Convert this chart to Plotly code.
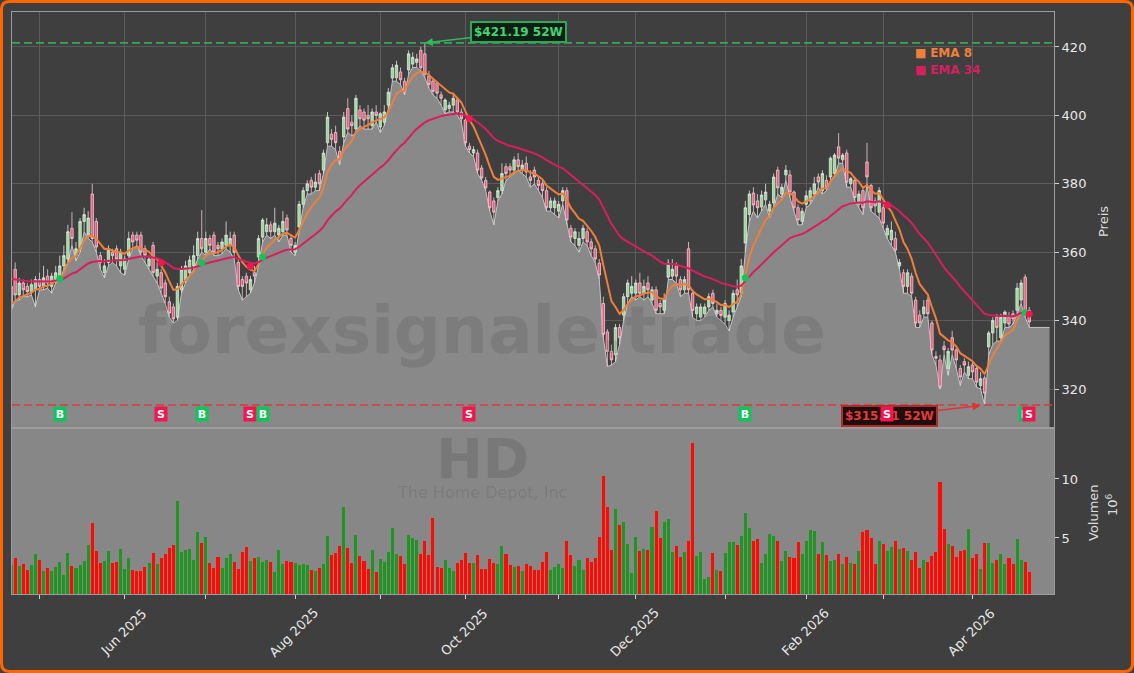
import plotly.graph_objects as go

# ---------------- data ----------------
open_ = [344, 355, 347.5, 351, 350, 348.5, 349, 352, 350, 353,
         350, 352, 353, 356, 358, 367, 359, 361, 369, 365,
         377, 369, 359, 354, 357, 360, 361, 356, 355, 359,
         365, 365, 365, 361, 356, 362, 353, 354, 351, 345.5,
         344, 341, 349, 352, 354, 356, 359, 364, 360, 364,
         365, 362, 361, 362, 362, 365, 357, 352, 353, 349,
         354, 358.6, 364.4, 366, 368, 366, 365, 366, 370, 364,
         360, 367.4, 374, 378, 381, 379, 383, 384, 392, 394.5,
         395, 389.5, 393.7, 402, 398, 396, 401.6, 401, 400, 397,
         401, 396.6, 398, 403, 410.9, 411, 412.7, 410, 413.3, 415,
         415.5, 419, 418, 411.5, 410, 409.5, 406, 401.6, 402, 403,
         404.5, 401, 398.6, 391, 389, 389, 384.6, 381, 377.6, 375,
         376, 378, 385, 385, 384, 387, 384, 386, 382, 384,
         381, 380, 378, 373, 373, 372, 375, 378, 367, 364,
         362, 364, 366, 363, 361, 356.8, 345, 336.7, 331, 330,
         338, 341.6, 347, 348, 348, 351, 348, 351, 346, 349,
         345, 343, 352.7, 353, 356, 352, 349, 361, 348, 342,
         341, 342, 344, 348, 342, 343, 341, 340, 342.5, 349,
         348, 362.7, 371, 377.3, 375, 373.2, 375.3, 372, 374.4, 384,
         377, 382.6, 382.6, 377.6, 373, 369, 374, 375, 377, 382,
         378, 381, 382, 383, 390.8, 387, 389, 380, 381, 374,
         378, 386.4, 379.5, 375, 371.7, 373, 365, 363.6, 364, 356,
         354, 350, 353, 346, 341.6, 342, 346, 339.3, 329.5, 328.5,
         332.5, 326, 335, 331.4, 326, 328, 324, 327, 326, 321,
         323.2, 332.3, 336.4, 341, 335, 339.3, 341, 342, 343, 346,
         352.7, 343]
high = [352, 357, 352.5, 352, 351, 352, 353, 354, 356, 355,
        354, 356, 359, 362, 368, 371.7, 363, 370, 373, 372,
        380, 370, 360, 358, 362, 361, 362, 361, 359, 366,
        366, 366, 366, 362, 359, 363, 357, 355, 352, 347,
        345, 351, 356, 357.5, 359, 362, 366, 372.3, 366, 365,
        366, 363, 364, 369, 366, 366, 358, 353, 354, 353,
        356, 365, 370, 370, 369, 373, 368, 372, 371, 365,
        363, 375, 379, 381, 382, 383, 384, 390, 401, 396,
        397, 391, 401, 405, 400, 406, 403, 402, 403, 402,
        403, 401, 403, 408, 415, 416, 414, 411, 419, 418.5,
        418, 420, 421.19, 413, 411, 410, 407, 405, 404, 406,
        405, 402, 399, 392, 391, 390, 385.5, 382, 378, 376,
        379, 386, 386, 386, 388, 389, 387, 388, 384, 385,
        382, 381, 379, 376, 376, 375, 379, 379, 368, 367,
        366, 368, 367, 364, 362, 358, 347, 337.5, 333, 339,
        339, 348, 352, 353, 352, 354, 352, 353, 350, 350,
        346, 348, 358, 358, 357, 353, 353, 363, 349, 345,
        345, 345, 348, 349, 345, 344, 346, 343, 349, 352,
        358, 375, 378, 379, 377, 378, 380, 375, 383, 385,
        380, 385.5, 384, 378, 374, 373, 378, 379, 382, 383,
        384, 382.5, 388, 389, 394.8, 389, 390, 382, 382, 378,
        379, 392, 380, 376, 379, 374, 368, 369, 366, 358,
        355, 355, 354, 347, 343, 346, 347, 340, 331, 330,
        334, 332, 337, 332, 327, 329, 328, 328, 327, 325,
        324, 337, 341, 342, 342, 343, 342.5, 343, 351, 352,
        353.5, 344]
low = [342.6, 346, 346, 347, 347, 347.5, 344, 349, 349, 349.5,
       348, 351, 352, 355, 357, 362, 357.5, 360, 366, 364,
       363, 360, 355, 352.5, 356, 357, 356, 354, 353.3, 358,
       361, 362, 359, 357, 355, 353, 351, 348, 345, 341,
       339.3, 340, 348, 351, 353, 355, 358, 360, 359, 361,
       359, 359, 359.5, 361, 360, 358, 349, 346, 347, 348,
       351, 356, 363, 365, 364, 365, 363, 365, 365, 360,
       359, 366, 373, 377, 377, 378, 378, 383, 391, 391,
       390, 385.5, 392, 395, 394, 395, 397, 396, 396, 396,
       398, 395, 397, 402, 410, 410, 409, 406, 412, 414,
       414, 413, 411, 408, 406, 405, 403, 400.5, 401, 401,
       400, 398, 391, 389, 388, 383, 381, 378, 372, 368,
       375, 377, 381, 382, 383, 384, 383, 382, 379, 380,
       378, 376, 372, 372, 371, 370, 374, 368, 363, 362,
       360, 363, 362, 359, 357, 352, 335, 326.6, 327, 328,
       333, 340, 345, 347, 346, 347, 346, 347, 345, 342,
       342, 342, 352, 352, 351, 347, 348, 348, 341, 340,
       340, 341, 343, 344, 341, 340, 339, 337, 341, 344,
       347, 360, 369, 372, 370, 372, 374, 370, 373, 377,
       376, 381, 376, 372, 368, 368, 373, 374, 376, 379,
       377, 378, 381, 382, 386, 386, 379, 379, 375, 373,
       371, 380, 372, 371, 370, 367, 364, 362, 360, 355,
       348, 348, 347, 338, 338, 341, 341, 330, 327, 320,
       330, 324, 330, 326, 321, 325, 323, 323, 320.5, 320,
       315.31, 330, 333, 334, 334, 338, 338, 339, 342, 345,
       341, 338]
close = [350, 347.5, 351, 349, 348.5, 350.5, 352, 350, 352.5, 351,
         353, 354, 356, 359, 366, 364, 361, 369, 371, 370,
         364, 361.5, 357, 356, 361, 359, 358, 360, 358, 364,
         363, 363.5, 360, 359, 358, 354, 355, 349.5, 347, 342.2,
         340.5, 350, 355, 356, 357.7, 359, 364, 361, 364, 362,
         360, 361, 363, 365, 364, 360, 350, 350, 351, 352,
         353, 364, 369.4, 368, 366, 368.5, 367, 369, 366.5, 362,
         362, 374, 378, 380, 379, 380.5, 380, 389, 399.5, 393,
         392, 387.5, 399.5, 396, 397, 405, 399, 398.6, 399, 401,
         400, 400.5, 401, 406.8, 413.9, 414.7, 410.4, 407, 418, 417,
         416.5, 413.9, 412, 409, 407, 406.5, 405, 404.5, 403, 405,
         401, 399, 392, 390, 390, 384, 381.7, 378.8, 373, 371.7,
         378, 383, 383, 384, 387, 385, 385.5, 383.5, 381, 382,
         379.5, 378, 373, 375, 375, 374, 378, 369.4, 364.4, 366,
         364, 367, 363, 361, 358, 353.3, 336, 331, 328.5, 338,
         335, 347, 351, 350, 351, 348, 350, 349, 349, 343,
         344, 346, 356.8, 355, 353, 349, 352, 349, 343, 344,
         344, 344, 347, 345, 343, 341.5, 345, 341.6, 348, 347.5,
         356, 373, 377, 373.8, 373, 376.7, 377.6, 374, 382, 378.8,
         379, 384, 377.6, 373, 369.4, 372, 376.5, 378, 380, 380.5,
         383, 379, 387.5, 388.4, 387.5, 388.4, 380.5, 381.5, 376, 377,
         373, 382, 373, 373.5, 378, 368.5, 367, 366.4, 360.6, 357,
         350, 354, 348, 339.3, 339.3, 344, 342, 331.4, 329, 320.6,
         331.5, 331, 331.4, 328.5, 323.5, 327, 326.5, 325, 322, 323,
         318.8, 336.4, 340, 338, 341, 342.5, 339, 340.5, 349.5, 351,
         342.2, 339.6]
volume_m = [2.71, 3.28, 2.66, 2.77, 2.29, 2.71, 3.64, 3.14, 2.20, 2.49,
            2.20, 2.57, 2.97, 1.86, 3.73, 2.63, 2.49, 2.71, 3.05, 4.41,
            6.30, 3.93, 2.88, 3.05, 3.90, 2.91, 2.97, 4.07, 2.40, 3.31,
            2.29, 2.20, 2.20, 2.57, 2.88, 3.73, 2.80, 3.31, 3.64, 4.15,
            4.41, 8.14, 3.81, 3.98, 4.07, 3.16, 5.51, 4.58, 5.08, 2.88,
            2.49, 3.39, 2.49, 3.31, 3.64, 2.97, 2.40, 3.81, 4.24, 3.05,
            3.31, 3.39, 2.97, 3.14, 2.97, 2.12, 3.98, 2.80, 3.05, 2.97,
            2.88, 2.71, 2.80, 2.71, 2.29, 2.20, 2.46, 2.80, 5.17, 3.56,
            3.73, 4.32, 7.60, 4.15, 2.88, 5.25, 3.47, 3.05, 2.37, 3.98,
            2.12, 3.22, 2.97, 3.81, 5.85, 3.64, 3.47, 2.80, 5.25, 5.03,
            4.86, 3.64, 4.75, 3.56, 6.69, 2.54, 2.46, 3.14, 2.46, 2.20,
            2.88, 3.14, 3.73, 2.88, 2.88, 3.56, 2.37, 2.37, 3.22, 2.88,
            2.80, 4.32, 3.64, 2.71, 2.54, 2.63, 2.20, 2.80, 2.63, 2.29,
            2.29, 2.97, 3.81, 2.29, 2.54, 2.80, 2.46, 4.75, 3.56, 2.63,
            3.14, 2.29, 3.31, 2.97, 3.31, 5.08, 10.25, 7.60, 3.98, 7.46,
            6.10, 6.36, 4.49, 2.03, 5.08, 3.90, 4.07, 3.98, 5.93, 7.29,
            5.00, 6.36, 6.61, 3.81, 4.32, 3.39, 3.81, 4.75, 13.08, 3.47,
            3.81, 1.50, 1.70, 3.73, 2.29, 2.20, 3.73, 4.66, 4.66, 4.41,
            5.17, 7.12, 5.85, 4.75, 4.92, 2.88, 3.64, 5.34, 5.17, 4.75,
            3.08, 3.90, 3.42, 3.33, 4.69, 3.64, 4.75, 5.68, 5.59, 3.64,
            4.66, 3.56, 3.05, 3.14, 3.64, 2.80, 3.39, 2.85, 2.80, 3.90,
            5.51, 5.68, 5.00, 2.80, 4.75, 4.49, 3.90, 4.24, 4.75, 4.07,
            4.15, 3.90, 3.14, 3.81, 2.46, 3.14, 2.97, 3.47, 3.81, 9.75,
            5.76, 4.49, 4.32, 3.39, 3.90, 3.98, 5.76, 3.31, 3.64, 2.37,
            4.58, 4.58, 2.88, 3.14, 3.64, 2.80, 3.31, 2.80, 4.92, 3.14,
            2.97, 2.12]

# month starts (trading-day index) and their labels
month_idx = [7, 28, 48, 70, 91, 112, 135, 154, 176, 196, 215, 237]
month_labels = ["", "Jun 2025", "", "Aug 2025", "", "Oct 2025", "",
                "Dec 2025", "", "Feb 2026", "", "Apr 2026"]

buy_idx = [12, 47, 62, 181, 250]
sell_idx = [37, 59, 113, 216, 251]

ema8_start = 343.5      # EMA levels at the left edge of the chart
ema34_start = 352.3

high_52w, high_52w_idx = 421.19, 102
low_52w, low_52w_idx = 315.31, 240
area_end_idx = 256       # grey area continues flat to here

price_ticks = [320, 340, 360, 380, 400, 420]
volume_ticks = [5, 10]

# ---------------- helpers ----------------
n = len(close)
x = list(range(n))


def ema(vals, span, start):
    a = 2.0 / (span + 1)
    out, e = [], start
    for v in vals:
        e = e + a * (v - e)
        out.append(e)
    return out


ema8 = ema(close, 8, ema8_start)
ema34 = ema(close, 34, ema34_start)

# layout geometry in pixels
W, H = 1134, 673
ML, MR, MT, MB = 12, 80, 12, 79
PW, PH = W - ML - MR, H - MT - MB
VOL_FRAC = 166 / PH


def px(X):
    return (X - ML) / PW


def py(Y):
    return (H - MB - Y) / PH


BG = "#3f3f3f"
GRID = "#5b5b5b"
FRAME = "#9c9c9c"
TXT = "#e8e8e8"
EMA8_C = "#f07f3a"
EMA34_C = "#d81e5f"
UP_V = "#1f961f"
DN_V = "#ff0a00"

fig = go.Figure()

# grey area under the lows
fig.add_trace(go.Scatter(
    x=x + [area_end_idx], y=low + [low[-1]], mode="lines",
    line=dict(color="#c4c4c4", width=1), fill="tozeroy",
    fillcolor="#898989", hoverinfo="skip", xaxis="x", yaxis="y"))

# candles (overlay axis so they sit above the area)
fig.add_trace(go.Candlestick(
    x=x, open=open_, high=high, low=low, close=close,
    increasing=dict(line=dict(color="#e4e4e4", width=0.8), fillcolor="#8ee08e"),
    decreasing=dict(line=dict(color="#ecd0d6", width=0.8), fillcolor="#f0557a"),
    whiskerwidth=0, xaxis="x", yaxis="y3", name="HD"))

fig.add_trace(go.Scatter(x=x, y=ema8, mode="lines", line=dict(color=EMA8_C, width=2),
                         xaxis="x", yaxis="y3", name="EMA 8"))
fig.add_trace(go.Scatter(x=x, y=ema34, mode="lines", line=dict(color=EMA34_C, width=2),
                         xaxis="x", yaxis="y3", name="EMA 34"))

fig.add_trace(go.Scatter(
    x=buy_idx, y=[(ema8[i] + ema34[i]) / 2 for i in buy_idx], mode="markers",
    marker=dict(color="#10c45c", size=7), xaxis="x", yaxis="y3", name="Buy"))
fig.add_trace(go.Scatter(
    x=sell_idx, y=[(ema8[i] + ema34[i]) / 2 for i in sell_idx], mode="markers",
    marker=dict(color="#f2164e", size=7), xaxis="x", yaxis="y3", name="Sell"))

# volume
vcol = [UP_V if c >= o else DN_V for o, c in zip(open_, close)]
fig.add_trace(go.Bar(x=x, y=volume_m, marker=dict(color=vcol, line=dict(width=0)),
                     width=0.75, xaxis="x2", yaxis="y2", name="Volumen"))

price_range = [308.6, 430.23]

fig.update_layout(
    width=W, height=H, margin=dict(l=ML, r=MR, t=MT, b=MB),
    paper_bgcolor=BG, plot_bgcolor=BG, showlegend=False,
    font=dict(family="DejaVu Sans", color=TXT, size=13),
    bargap=0, boxgap=0.15,
    xaxis=dict(domain=[0, 1], anchor="y", range=[0.22, 257.1],
               tickvals=month_idx, showticklabels=False, ticks="",
               showgrid=True, gridcolor=GRID, gridwidth=1,
               showline=True, mirror=True, linecolor=FRAME, zeroline=False,
               rangeslider=dict(visible=False)),
    xaxis2=dict(domain=[0, 1], anchor="y2", matches="x", range=[0.22, 257.1],
                tickvals=month_idx, showticklabels=False, ticks="outside",
                ticklen=4, tickcolor="#d0d0d0", showgrid=False,
                showline=True, mirror=True, linecolor=FRAME, zeroline=False,
                rangeslider=dict(visible=False)),
    yaxis=dict(domain=[VOL_FRAC, 1], anchor="x", side="right", range=price_range,
               tickvals=price_ticks, ticks="outside", ticklen=4, tickcolor="#d0d0d0",
               tickfont=dict(size=13, color=TXT), showgrid=True, gridcolor=GRID,
               showline=True, mirror=True, linecolor=FRAME, zeroline=False),
    yaxis3=dict(overlaying="y", anchor="x", side="right", range=price_range,
                visible=False, showgrid=False, zeroline=False),
    yaxis2=dict(domain=[0, VOL_FRAC], anchor="x2", side="right", range=[0.254, 14.32],
                tickvals=volume_ticks, ticks="outside", ticklen=4, tickcolor="#d0d0d0",
                tickfont=dict(size=13, color=TXT), showgrid=False,
                showline=True, mirror=True, linecolor=FRAME, zeroline=False),
)

shapes = []
# grey background of volume panel
shapes.append(dict(type="rect", xref="x2 domain", yref="y2 domain", x0=0, x1=1, y0=0, y1=1,
                   fillcolor="#878787", line=dict(width=0), layer="below"))
# 52-week lines
shapes.append(dict(type="line", xref="x domain", yref="y", x0=0, x1=1,
                   y0=high_52w, y1=high_52w, line=dict(color="#35a85a", width=1.6, dash="8px,4px")))
shapes.append(dict(type="line", xref="x domain", yref="y", x0=0, x1=1,
                   y0=low_52w, y1=low_52w, line=dict(color="#d83a3a", width=1.4, dash="8px,4px")))
# orange rounded frame around the whole figure
r, X0, Y0, X1, Y1 = 8, 1.5, 1.5, W - 1.5, H - 1.5
pts = [("M", X0 + r, Y0), ("L", X1 - r, Y0), ("Q", X1, Y0, X1, Y0 + r), ("L", X1, Y1 - r),
       ("Q", X1, Y1, X1 - r, Y1), ("L", X0 + r, Y1), ("Q", X0, Y1, X0, Y1 - r),
       ("L", X0, Y0 + r), ("Q", X0, Y0, X0 + r, Y0)]
path = ""
for p in pts:
    if p[0] == "Q":
        path += "Q{:.5f},{:.5f} {:.5f},{:.5f} ".format(px(p[1]), py(p[2]), px(p[3]), py(p[4]))
    else:
        path += "{}{:.5f},{:.5f} ".format(p[0], px(p[1]), py(p[2]))
path += "Z"
shapes.append(dict(type="path", xref="paper", yref="paper", path=path,
                   line=dict(color="#ff6600", width=3), layer="above"))
fig.update_layout(shapes=shapes)

ann = []
# watermarks
ann.append(dict(text="<b>forexsignale.trade</b>", xref="paper", yref="paper",
                x=px(482), y=py(330), xanchor="center", yanchor="middle", showarrow=False,
                font=dict(size=66, color="rgba(40,40,40,0.13)", family="DejaVu Sans")))
ann.append(dict(text="<b>HD</b>", xref="paper", yref="paper",
                x=px(482), y=py(459), xanchor="center", yanchor="middle", showarrow=False,
                font=dict(size=56, color="rgba(40,40,40,0.15)", family="DejaVu Sans")))
ann.append(dict(text="The Home Depot, Inc", xref="paper", yref="paper",
                x=px(482), y=py(492), xanchor="center", yanchor="middle", showarrow=False,
                font=dict(size=16, color="rgba(40,40,40,0.15)", family="DejaVu Sans")))

# x tick labels (rotated, centred on the tick)
for i, lab in zip(month_idx, month_labels):
    if lab:
        ann.append(dict(text=lab, xref="x2", yref="paper", x=i - 0.4, y=py(632),
                        xanchor="center", yanchor="middle", textangle=-45, showarrow=False,
                        font=dict(size=13, color=TXT)))

# axis titles
ann.append(dict(text="Preis", xref="paper", yref="paper", x=px(1103), y=py(222),
                xanchor="center", yanchor="middle",
                textangle=-90, showarrow=False, font=dict(size=13, color="#dcdcdc")))
ann.append(dict(text="Volumen", xref="paper", yref="paper", x=px(1093), y=py(513),
                xanchor="center", yanchor="middle",
                textangle=-90, showarrow=False, font=dict(size=13, color="#dcdcdc")))
ann.append(dict(text="10<sup>6</sup>", xref="paper", yref="paper", x=px(1112), y=py(505),
                xanchor="center", yanchor="middle",
                textangle=-90, showarrow=False, font=dict(size=13, color="#dcdcdc")))

# legend entries
ann.append(dict(text="■ <b>EMA 8</b>", xref="paper", yref="paper", x=px(913), y=py(53),
                xanchor="left", yanchor="middle", showarrow=False,
                font=dict(size=12, color=EMA8_C)))
ann.append(dict(text="■ <b>EMA 34</b>", xref="paper", yref="paper", x=px(913), y=py(70),
                xanchor="left", yanchor="middle", showarrow=False,
                font=dict(size=12, color=EMA34_C)))

# 52W annotations
ann.append(dict(text="<b>$%.2f 52W</b>" % high_52w, xref="x", yref="y",
                x=high_52w_idx, y=high_52w, ax=94, ay=-11, showarrow=True,
                arrowhead=2, arrowsize=1, arrowwidth=1.6, arrowcolor="#2fb85c",
                font=dict(size=12, color="#45d474"), bgcolor="#0e1f14",
                bordercolor="#2fa858", borderwidth=2, borderpad=2))
ann.append(dict(text="<b>$%.2f 52W</b>" % low_52w, xref="x", yref="y",
                x=low_52w_idx, y=low_52w, ax=-95, ay=11, showarrow=True, standoff=4,
                arrowhead=2, arrowsize=1, arrowwidth=1.6, arrowcolor="#e03434",
                font=dict(size=12, color="#e23b3b"), bgcolor="#1f0e0e",
                bordercolor="#b02c2c", borderwidth=2, borderpad=2))

# buy / sell labels
sig = sorted([(i, "B") for i in buy_idx] + [(i, "S") for i in sell_idx])
for i, s in sig:
    ann.append(dict(text="<b>%s</b>" % s, xref="x", yref="y", x=i, y=312.8,
                    showarrow=False, width=10, height=12, borderpad=1,
                    bgcolor="#10c45c" if s == "B" else "#f2164e",
                    font=dict(size=11, color="white")))

fig.update_layout(annotations=ann)

fig.write_html("out.html")
